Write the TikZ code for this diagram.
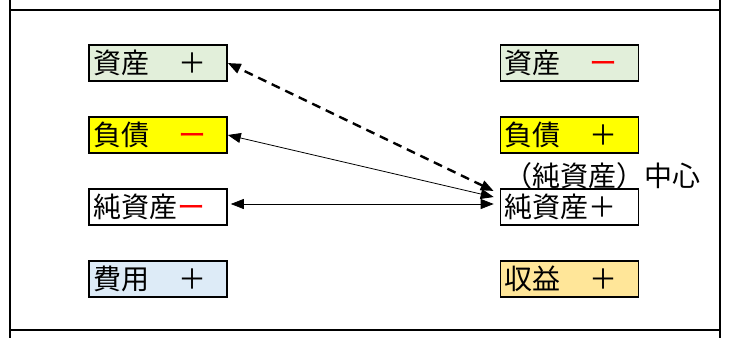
\documentclass[tikz,border=0pt]{standalone}
\usepackage{fontspec}
\setmainfont{Noto Sans CJK JP}
\usetikzlibrary{positioning, arrows.meta}
\definecolor{assetfill}{RGB}{226, 239, 218}
\definecolor{debtfill}{RGB}{255, 255, 0}
\definecolor{costfill}{RGB}{221, 235, 247}
\definecolor{revfill}{RGB}{255, 230, 153}
\newcommand{\redminus}{{\color{red}ー}}
\newcommand{\signgap}{\hspace{1.05em}}

\begin{document}
\begin{tikzpicture}[x=1pt, y=-1pt,
                acctbox/.style={draw=black, line width=1.6pt,
                    minimum width=138pt, minimum height=36pt,
                    text width=130pt, align=left, inner xsep=3pt, inner ysep=0pt,
                    font=\fontsize{28}{30}\selectfont},
                link/.style={{Triangle[length=13pt,width=10pt]}-{Triangle[length=13pt,width=10pt]},
                    line width=0.8pt},
                frame/.style={line width=1.8pt}
            ]
            \useasboundingbox (0,0) rectangle (729,338);

            % table frame
            \draw[frame] (10,0) -- (10,338);
            \draw[frame] (720,0) -- (720,338);
            \draw[frame] (10,10) -- (720,10);
            \draw[frame] (10,330) -- (720,330);

            % left column
            \node[acctbox, fill=assetfill] (shisanL) at (158, 63) {資産\signgap＋};
            \node[acctbox, fill=debtfill] (fusaiL) at (158, 135) {負債\signgap\redminus};
            \node[acctbox, fill=white] (junL) at (158, 207) {純資産\redminus};
            \node[acctbox, fill=costfill] (hiyouL) at (158, 279) {費用\signgap＋};

            % right column
            \node[acctbox, fill=assetfill] (shisanR) at (569.5, 63) {資産\signgap\redminus};
            \node[acctbox, fill=debtfill] (fusaiR) at (569.5, 135) {負債\signgap＋};
            \node[acctbox, fill=white] (junR) at (569.5, 207) {純資産＋};
            \node[acctbox, fill=revfill] (shuuekiR) at (569.5, 279) {収益\signgap＋};

            \node[font=\fontsize{28}{30}\selectfont, inner sep=0pt, anchor=east] (centerlbl)
                at (701, 176) {（純資産）中心};

            % links
            \draw[link, line width=2.4pt, dash pattern=on 9pt off 6pt]
                ([xshift=-6pt,yshift=16pt]junR.west) -- (shisanL.east);
            \draw[link] ([xshift=-6pt,yshift=10pt]junR.west) -- (fusaiL.east);
            \draw[link] ([xshift=-6pt,yshift=3pt]junR.west) -- ([xshift=3pt,yshift=3pt]junL.east);

            \end{tikzpicture}
\end{document}
